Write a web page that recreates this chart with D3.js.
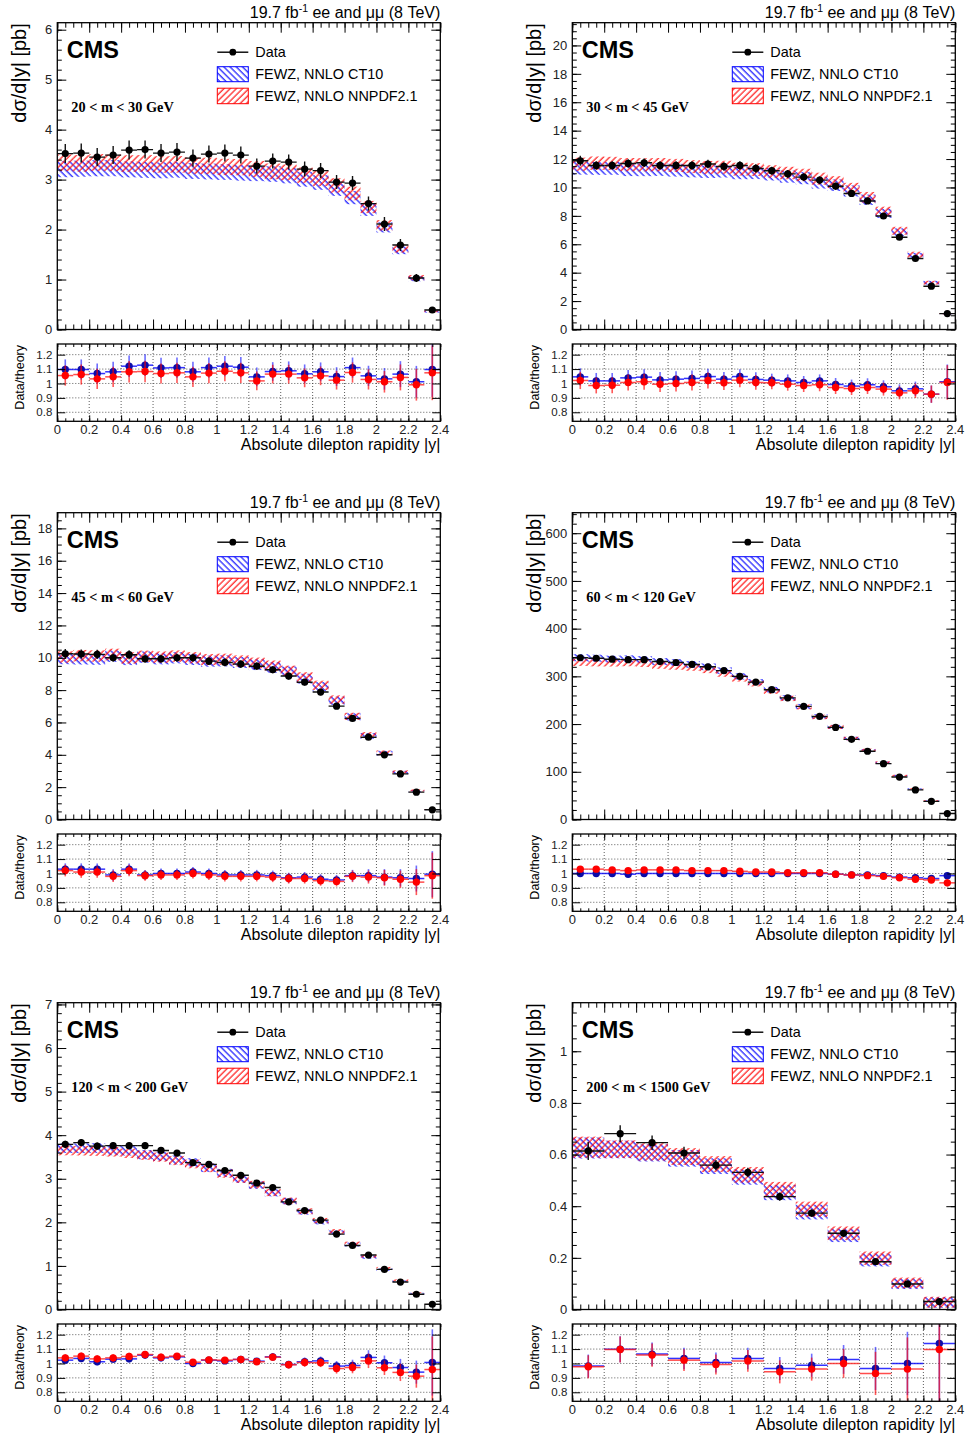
<!DOCTYPE html>
<html>
<head>
<meta charset="utf-8">
<script src="https://cdn.jsdelivr.net/npm/d3@7"></script>
<style>
  body { margin: 0; background: #fff; }
  svg { display: block; }
</style>
</head>
<body>
<script>
// #Page size
const width = 966, height = 1439;
const FONT = 'Liberation Sans, Arial, Helvetica, sans-serif';
const SERIF = 'Liberation Serif, Times New Roman, serif';

// #Rapidity bins
const edgesFine = [0, 0.1, 0.2, 0.3, 0.4, 0.5, 0.6, 0.7, 0.8, 0.9, 1.0, 1.1, 1.2,
                   1.3, 1.4, 1.5, 1.6, 1.7, 1.8, 1.9, 2.0, 2.1, 2.2, 2.3, 2.4];
const edgesWide = [0, 0.2, 0.4, 0.6, 0.8, 1.0, 1.2, 1.4, 1.6, 1.8, 2.0, 2.2, 2.4];
const xTickLabels = [0, 0.2, 0.4, 0.6, 0.8, 1, 1.2, 1.4, 1.6, 1.8, 2, 2.2, 2.4];
const ratioTickLabels = [0.8, 0.9, 1, 1.1, 1.2];

const massLabels = ['20 < m < 30 GeV', '30 < m < 45 GeV', '45 < m < 60 GeV',
                    '60 < m < 120 GeV', '120 < m < 200 GeV', '200 < m < 1500 GeV'];

// relative half width of the FEWZ bands (one value per mass bin, or one per rapidity bin)
const bandUnc200to1500 = [0.065, 0.055, 0.055, 0.055, 0.055, 0.058, 0.065, 0.076, 0.09, 0.13, 0.2, 0.75];
const theoryRelUnc = [0.05, 0.04, 0.035, 0.022, 0.03, bandUnc200to1500];

// #20 < m < 30
const xsec20to30 = [3.52, 3.53, 3.45, 3.49, 3.59, 3.60, 3.53, 3.55, 3.43, 3.51, 3.53, 3.49,
                    3.27, 3.37, 3.35, 3.21, 3.18, 2.95, 2.93, 2.52, 2.11, 1.69, 1.03, 0.39];
const err20to30 = [0.19, 0.19, 0.18, 0.18, 0.19, 0.18, 0.18, 0.18, 0.17, 0.17, 0.17, 0.17,
                   0.15, 0.15, 0.15, 0.15, 0.15, 0.14, 0.14, 0.14, 0.14, 0.12, 0.08, 0.04];
const rCT20to30 = [1.097, 1.097, 1.069, 1.081, 1.120, 1.127, 1.108, 1.110, 1.081, 1.110, 1.120, 1.113,
                   1.046, 1.083, 1.088, 1.067, 1.081, 1.048, 1.110, 1.053, 1.032, 1.065, 1.012, 1.097];
const rNN20to30 = [1.055, 1.062, 1.032, 1.046, 1.081, 1.083, 1.069, 1.074, 1.046, 1.072, 1.085, 1.074,
                   1.018, 1.065, 1.065, 1.039, 1.053, 1.023, 1.076, 1.028, 1.012, 1.042, 0.991, 1.074];
const rErr20to30 = [0.07, 0.07, 0.07, 0.07, 0.075, 0.075, 0.07, 0.07, 0.07, 0.07, 0.07, 0.07,
                    0.065, 0.065, 0.065, 0.065, 0.065, 0.065, 0.07, 0.07, 0.075, 0.09, 0.11, 0.19];
const yTicks20to30 = [0, 1, 2, 3, 4, 5, 6];

// #30 < m < 45
const xsec30to45 = [11.88, 11.55, 11.55, 11.69, 11.74, 11.55, 11.55, 11.55, 11.65, 11.48, 11.55, 11.34,
                    11.18, 10.96, 10.73, 10.52, 10.09, 9.58, 9.05, 7.99, 6.5, 5.0, 3.05, 1.12];
const err30to45 = [0.35, 0.3, 0.3, 0.3, 0.3, 0.3, 0.3, 0.3, 0.3, 0.3, 0.3, 0.3,
                   0.28, 0.27, 0.26, 0.25, 0.25, 0.24, 0.22, 0.2, 0.17, 0.14, 0.1, 0.06];
const rCT30to45 = [1.046, 1.018, 1.018, 1.039, 1.044, 1.025, 1.030, 1.035, 1.048, 1.030, 1.048, 1.028,
                   1.023, 1.018, 1.007, 1.018, 0.993, 0.982, 0.991, 0.977, 0.949, 0.963, 0.926, 1.012];
const rNN30to45 = [1.021, 0.986, 0.988, 1.007, 1.012, 0.995, 1.000, 1.007, 1.021, 1.005, 1.023, 1.007,
                   1.005, 0.995, 0.986, 0.991, 0.972, 0.965, 0.972, 0.961, 0.935, 0.949, 0.926, 1.007];
const rErr30to45 = [0.06, 0.055, 0.055, 0.055, 0.055, 0.055, 0.055, 0.055, 0.055, 0.05, 0.05, 0.05,
                    0.045, 0.045, 0.045, 0.045, 0.045, 0.045, 0.045, 0.045, 0.045, 0.05, 0.06, 0.12];
const yTicks30to45 = [0, 2, 4, 6, 8, 10, 12, 14, 16, 18, 20];

// #45 < m < 60
const xsec45to60 = [10.25, 10.23, 10.21, 10.0, 10.19, 9.94, 9.94, 10.0, 10.0, 9.79, 9.71, 9.61,
                    9.48, 9.26, 8.87, 8.49, 7.88, 7.01, 6.25, 5.09, 4.0, 2.82, 1.69, 0.60];
const err45to60 = [0.3, 0.28, 0.28, 0.25, 0.28, 0.25, 0.25, 0.25, 0.25, 0.24, 0.24, 0.23,
                   0.22, 0.22, 0.21, 0.2, 0.19, 0.17, 0.15, 0.13, 0.11, 0.09, 0.07, 0.06];
const rCT45to60 = [1.03, 1.03, 1.03, 0.99, 1.03, 0.99, 1.0, 1.0, 1.01, 1.0, 0.99, 0.99,
                   0.99, 0.985, 0.97, 0.975, 0.96, 0.955, 0.985, 0.985, 0.975, 0.97, 0.965, 0.995];
const rNN45to60 = [1.02, 1.01, 1.01, 0.98, 1.02, 0.985, 0.99, 0.99, 1.0, 0.99, 0.98, 0.98,
                   0.98, 0.975, 0.965, 0.965, 0.95, 0.945, 0.98, 0.975, 0.97, 0.96, 0.94, 0.985];
const rErr45to60 = [0.04, 0.04, 0.04, 0.04, 0.04, 0.035, 0.035, 0.035, 0.035, 0.035, 0.035, 0.035,
                    0.035, 0.035, 0.035, 0.035, 0.035, 0.035, 0.04, 0.045, 0.055, 0.06, 0.09, 0.16];
const yTicks45to60 = [0, 2, 4, 6, 8, 10, 12, 14, 16, 18];

// #60 < m < 120
const xsec60to120 = [339, 338, 336, 335, 335, 331, 329, 325, 320, 312, 300, 288,
                     272, 255, 237, 216, 193, 168, 143, 117, 89, 62, 38, 12.6];
const err60to120 = [3, 3, 3, 3, 3, 3, 3, 3, 3, 3, 3, 3,
                    3, 3, 3, 2.5, 2.5, 2.5, 2, 2, 2, 1.5, 1, 0.5];
const rCT60to120 = [1.0, 1.0, 1.0, 0.995, 1.0, 1.0, 1.0, 1.0, 1.0, 1.0, 1.0, 1.0,
                    1.0, 1.0, 1.0, 1.0, 0.995, 0.99, 0.99, 0.985, 0.975, 0.97, 0.965, 0.985];
const rNN60to120 = [1.03, 1.03, 1.025, 1.02, 1.025, 1.025, 1.025, 1.02, 1.02, 1.02, 1.015, 1.01,
                    1.01, 1.005, 1.005, 1.005, 0.995, 0.99, 0.985, 0.98, 0.97, 0.96, 0.955, 0.935];
const rErr60to120 = [0.012, 0.012, 0.012, 0.012, 0.012, 0.012, 0.012, 0.012, 0.012, 0.012, 0.012, 0.012,
                     0.012, 0.012, 0.012, 0.012, 0.012, 0.012, 0.013, 0.014, 0.015, 0.017, 0.02, 0.025];
const yTicks60to120 = [0, 100, 200, 300, 400, 500, 600];

// #120 < m < 200
const xsec120to200 = [3.79, 3.83, 3.75, 3.76, 3.76, 3.76, 3.65, 3.59, 3.37, 3.33, 3.19, 3.08,
                      2.90, 2.80, 2.47, 2.27, 2.05, 1.73, 1.47, 1.25, 0.92, 0.63, 0.35, 0.12];
const err120to200 = [0.08, 0.08, 0.08, 0.08, 0.08, 0.08, 0.07, 0.07, 0.07, 0.07, 0.06, 0.06,
                     0.06, 0.06, 0.05, 0.05, 0.05, 0.04, 0.04, 0.04, 0.03, 0.03, 0.02, 0.02];
const rCT120to200 = [1.023, 1.035, 1.012, 1.030, 1.032, 1.058, 1.039, 1.046, 1.000, 1.023, 1.018, 1.028,
                     1.016, 1.046, 0.993, 1.012, 1.018, 0.982, 0.986, 1.042, 1.005, 0.972, 0.940, 1.007];
const rNN120to200 = [1.039, 1.051, 1.032, 1.039, 1.049, 1.062, 1.044, 1.051, 1.009, 1.025, 1.023, 1.028,
                     1.012, 1.044, 0.991, 1.007, 1.005, 0.965, 0.972, 1.018, 0.970, 0.938, 0.912, 0.958];
const rErr120to200 = [0.025, 0.025, 0.025, 0.025, 0.025, 0.025, 0.025, 0.02, 0.02, 0.02, 0.02, 0.02,
                      0.02, 0.025, 0.025, 0.03, 0.03, 0.035, 0.04, 0.05, 0.05, 0.06, 0.08, 0.23];
const yTicks120to200 = [0, 1, 2, 3, 4, 5, 6, 7];

// #200 < m < 1500
const xsec200to1500 = [0.614, 0.681, 0.646, 0.606, 0.559, 0.531, 0.437, 0.373, 0.295, 0.185, 0.099, 0.031];
const err200to1500 = [0.035, 0.032, 0.028, 0.024, 0.02, 0.018, 0.016, 0.014, 0.012, 0.01, 0.008, 0.006];
const rCT200to1500 = [0.982, 1.099, 1.065, 1.035, 1.007, 1.035, 0.965, 0.988, 1.028, 0.965, 1.0, 1.139];
const rNN200to1500 = [0.977, 1.097, 1.058, 1.023, 0.993, 1.018, 0.942, 0.961, 1.0, 0.931, 0.961, 1.097];
const rErr200to1500 = [0.08, 0.09, 0.08, 0.075, 0.07, 0.075, 0.08, 0.08, 0.1, 0.15, 0.22, 0.5];
const yTicks200to1500 = [0, 0.2, 0.4, 0.6, 0.8, 1];

const panels = [
    {label: massLabels[0], edges: edgesFine, xsec: xsec20to30, err: err20to30, rCT: rCT20to30,
     rNN: rNN20to30, rErr: rErr20to30, unc: theoryRelUnc[0], yMax: 6.14, yTicks: yTicks20to30, yMinor: 0.2},
    {label: massLabels[1], edges: edgesFine, xsec: xsec30to45, err: err30to45, rCT: rCT30to45,
     rNN: rNN30to45, rErr: rErr30to45, unc: theoryRelUnc[1], yMax: 21.6, yTicks: yTicks30to45, yMinor: 0.5},
    {label: massLabels[2], edges: edgesFine, xsec: xsec45to60, err: err45to60, rCT: rCT45to60,
     rNN: rNN45to60, rErr: rErr45to60, unc: theoryRelUnc[2], yMax: 18.97, yTicks: yTicks45to60, yMinor: 0.5},
    {label: massLabels[3], edges: edgesFine, xsec: xsec60to120, err: err60to120, rCT: rCT60to120,
     rNN: rNN60to120, rErr: rErr60to120, unc: theoryRelUnc[3], yMax: 643, yTicks: yTicks60to120, yMinor: 20},
    {label: massLabels[4], edges: edgesFine, xsec: xsec120to200, err: err120to200, rCT: rCT120to200,
     rNN: rNN120to200, rErr: rErr120to200, unc: theoryRelUnc[4], yMax: 7.04, yTicks: yTicks120to200, yMinor: 0.2},
    {label: massLabels[5], edges: edgesWide, xsec: xsec200to1500, err: err200to1500, rCT: rCT200to1500,
     rNN: rNN200to1500, rErr: rErr200to1500, unc: theoryRelUnc[5], yMax: 1.188, yTicks: yTicks200to1500, yMinor: 0.05}
];

// #Layout
const colLeft = [57.3, 572.3], rowTop = [0, 490, 980];
const plotW = 383;
const mainTop = 22.7, mainBottom = 329.5, ratioTop = 344, ratioBottom = 421.3;
const ratioDomain = [0.7375, 1.274];

const svg = d3.select('body')
              .append('svg')
              .attr('width', width)
              .attr('height', height);

const defs = svg.append('defs');

// #Hatch patterns for the theory bands
const hatch = (id, color, angle) => {
    const p = defs.append('pattern')
                  .attr('id', id)
                  .attr('patternUnits', 'userSpaceOnUse')
                  .attr('width', 4.4)
                  .attr('height', 4.4)
                  .attr('patternTransform', `rotate(${angle})`);
    p.append('line')
     .attr('x1', 1).attr('y1', 0).attr('x2', 1).attr('y2', 4.4)
     .attr('stroke', color)
     .attr('stroke-width', 1.1);
};
hatch('hatchBlue', '#0000ff', -45);
hatch('hatchRed', '#ff0000', 45);

const fmt = d3.format('~g');

const styleAxis = (sel, size) => {
    sel.select('.domain').remove();
    sel.attr('font-family', FONT).attr('font-size', size);
    sel.selectAll('line').attr('stroke', '#000').attr('stroke-width', 1);
    sel.selectAll('text').attr('fill', '#222');
};

const minorValues = (max, step) => d3.range(0, Math.floor(max / step + 1e-6) + 1).map(k => k * step);

function drawPanel(p, L, T, idx) {
    const g = svg.append('g');
    const R = L + plotW;

    const x = d3.scaleLinear().domain([0, 2.4]).range([L, R]);
    const y = d3.scaleLinear().domain([0, p.yMax]).range([T + mainBottom, T + mainTop]);
    const yr = d3.scaleLinear().domain(ratioDomain).range([T + ratioBottom, T + ratioTop]);

    defs.append('clipPath').attr('id', 'clipMain' + idx)
        .append('rect').attr('x', L).attr('y', T + mainTop)
        .attr('width', plotW).attr('height', mainBottom - mainTop);
    defs.append('clipPath').attr('id', 'clipRatio' + idx)
        .append('rect').attr('x', L).attr('y', T + ratioTop)
        .attr('width', plotW).attr('height', ratioBottom - ratioTop);

    const bins = p.xsec.map((v, k) => ({
        lo: p.edges[k], hi: p.edges[k + 1], mid: (p.edges[k] + p.edges[k + 1]) / 2,
        v: v, e: p.err[k],
        ct: v / p.rCT[k], nn: v / p.rNN[k],
        u: Array.isArray(p.unc) ? p.unc[k] : p.unc,
        rct: p.rCT[k], rnn: p.rNN[k], re: p.rErr[k]
    }));

// #Main pad
    const mainG = g.append('g').attr('clip-path', `url(#clipMain${idx})`);

    const band = (key, fill) => {
        mainG.append('g')
             .selectAll('rect')
             .data(bins)
             .join('rect')
             .attr('x', d => x(d.lo))
             .attr('width', d => x(d.hi) - x(d.lo))
             .attr('y', d => y(d[key] * (1 + d.u)))
             .attr('height', d => y(d[key] * (1 - d.u)) - y(d[key] * (1 + d.u)))
             .attr('fill', fill);
    };
    band('ct', 'url(#hatchBlue)');
    band('nn', 'url(#hatchRed)');

    const dataG = mainG.append('g');
    dataG.selectAll('line.h')
         .data(bins).join('line').attr('class', 'h')
         .attr('x1', d => x(d.lo)).attr('x2', d => x(d.hi))
         .attr('y1', d => y(d.v)).attr('y2', d => y(d.v))
         .attr('stroke', '#111').attr('stroke-width', 1.4);
    dataG.selectAll('line.v')
         .data(bins).join('line').attr('class', 'v')
         .attr('x1', d => x(d.mid)).attr('x2', d => x(d.mid))
         .attr('y1', d => y(d.v - d.e)).attr('y2', d => y(d.v + d.e))
         .attr('stroke', '#111').attr('stroke-width', 1.4);
    dataG.selectAll('circle')
         .data(bins).join('circle')
         .attr('cx', d => x(d.mid)).attr('cy', d => y(d.v)).attr('r', 3.6)
         .attr('fill', '#000');

// #Main axes (ticks inward on all four sides)
    g.append('g').attr('transform', `translate(${L},0)`)
     .call(d3.axisLeft(y).tickValues(p.yTicks).tickSizeInner(-9).tickSizeOuter(0).tickPadding(5).tickFormat(fmt))
     .call(s => styleAxis(s, 13));
    g.append('g').attr('transform', `translate(${L},0)`)
     .call(d3.axisLeft(y).tickValues(minorValues(p.yMax, p.yMinor)).tickSizeInner(-4.5).tickSizeOuter(0).tickFormat(''))
     .call(s => styleAxis(s, 13));
    g.append('g').attr('transform', `translate(${R},0)`)
     .call(d3.axisRight(y).tickValues(p.yTicks).tickSizeInner(-9).tickSizeOuter(0).tickFormat(''))
     .call(s => styleAxis(s, 13));
    g.append('g').attr('transform', `translate(${R},0)`)
     .call(d3.axisRight(y).tickValues(minorValues(p.yMax, p.yMinor)).tickSizeInner(-4.5).tickSizeOuter(0).tickFormat(''))
     .call(s => styleAxis(s, 13));

    [[T + mainBottom, d3.axisBottom], [T + mainTop, d3.axisTop]].forEach(([yy, ax]) => {
        g.append('g').attr('transform', `translate(0,${yy})`)
         .call(ax(x).tickValues(xTickLabels).tickSizeInner(-10).tickSizeOuter(0).tickFormat(''))
         .call(s => styleAxis(s, 13));
        g.append('g').attr('transform', `translate(0,${yy})`)
         .call(ax(x).tickValues(minorValues(2.4, 0.05)).tickSizeInner(-5).tickSizeOuter(0).tickFormat(''))
         .call(s => styleAxis(s, 13));
    });

    g.append('rect')
     .attr('x', L).attr('y', T + mainTop)
     .attr('width', plotW).attr('height', mainBottom - mainTop)
     .attr('fill', 'none').attr('stroke', '#000').attr('stroke-width', 1.3);

// #Texts of the main pad
    g.append('text')
     .attr('x', R).attr('y', T + 18.3)
     .attr('text-anchor', 'end')
     .attr('font-family', FONT).attr('font-size', 16)
     .call(t => {
         t.append('tspan').text('19.7 fb');
         t.append('tspan').attr('font-size', 10.5).attr('dy', -6).text('-1');
         t.append('tspan').attr('dy', 6).text(' ee and μμ (8 TeV)');
     });

    g.append('text')
     .attr('transform', `translate(${L - 31},${T + mainTop + 0.5}) rotate(-90)`)
     .attr('text-anchor', 'end')
     .attr('font-family', FONT).attr('font-size', 20)
     .text('dσ/d|y| [pb]');

    g.append('text')
     .attr('x', L + 9.5).attr('y', T + mainTop + 35.5)
     .attr('font-family', FONT).attr('font-size', 23.5).attr('font-weight', 'bold')
     .text('CMS');

    g.append('text')
     .attr('x', L + 14).attr('y', T + mainTop + 89)
     .attr('font-family', SERIF).attr('font-size', 14.3).attr('font-weight', 'bold')
     .text(p.label);

// #Legend
    const lx = L + 160, ly = T + mainTop;
    g.append('line')
     .attr('x1', lx).attr('x2', lx + 31).attr('y1', ly + 29.5).attr('y2', ly + 29.5)
     .attr('stroke', '#000').attr('stroke-width', 1.4);
    g.append('circle').attr('cx', lx + 15.5).attr('cy', ly + 29.5).attr('r', 3.4).attr('fill', '#000');
    g.append('rect')
     .attr('x', lx).attr('y', ly + 44).attr('width', 31).attr('height', 15)
     .attr('fill', 'url(#hatchBlue)').attr('stroke', '#0000ff').attr('stroke-width', 1);
    g.append('rect')
     .attr('x', lx).attr('y', ly + 65.5).attr('width', 31).attr('height', 15.5)
     .attr('fill', 'url(#hatchRed)').attr('stroke', '#ff0000').attr('stroke-width', 1);
    [['Data', 34.5], ['FEWZ, NNLO CT10', 56.5], ['FEWZ, NNLO NNPDF2.1', 78.5]].forEach(([txt, dy]) => {
        g.append('text')
         .attr('x', lx + 38).attr('y', ly + dy)
         .attr('font-family', FONT).attr('font-size', 14.4)
         .text(txt);
    });

// #Ratio pad
    const gridG = g.append('g')
                   .attr('stroke', '#000').attr('stroke-width', 0.8)
                   .attr('stroke-dasharray', '1,2').attr('opacity', 0.8);
    gridG.selectAll('line.gx')
         .data(xTickLabels.slice(1, -1)).join('line').attr('class', 'gx')
         .attr('x1', d => x(d)).attr('x2', d => x(d))
         .attr('y1', T + ratioTop).attr('y2', T + ratioBottom);
    gridG.selectAll('line.gy')
         .data(ratioTickLabels).join('line').attr('class', 'gy')
         .attr('x1', L).attr('x2', R)
         .attr('y1', d => yr(d)).attr('y2', d => yr(d));

    const ratioG = g.append('g').attr('clip-path', `url(#clipRatio${idx})`);
    const ratioSeries = (key, lineColor, barColor, markColor) => {
        const s = ratioG.append('g');
        s.selectAll('line.v')
         .data(bins).join('line').attr('class', 'v')
         .attr('x1', d => x(d.mid)).attr('x2', d => x(d.mid))
         .attr('y1', d => yr(d[key] - d.re)).attr('y2', d => yr(d[key] + d.re))
         .attr('stroke', barColor).attr('stroke-width', 1.6).attr('opacity', 0.65);
        s.selectAll('line.h')
         .data(bins).join('line').attr('class', 'h')
         .attr('x1', d => x(d.lo)).attr('x2', d => x(d.hi))
         .attr('y1', d => yr(d[key])).attr('y2', d => yr(d[key]))
         .attr('stroke', lineColor).attr('stroke-width', 1.5).attr('opacity', 0.8);
        s.selectAll('circle')
         .data(bins).join('circle')
         .attr('cx', d => x(d.mid)).attr('cy', d => yr(d[key])).attr('r', 3.7)
         .attr('fill', markColor);
    };
    ratioSeries('rct', '#0000ff', '#2020ff', '#0c0ca8');
    ratioSeries('rnn', '#ff2020', '#ff0000', '#ff0000');

    g.append('g').attr('transform', `translate(${L},0)`)
     .call(d3.axisLeft(yr).tickValues(ratioTickLabels).tickSizeInner(-8).tickSizeOuter(0).tickPadding(5).tickFormat(fmt))
     .call(s => styleAxis(s, 11.5));
    g.append('g').attr('transform', `translate(${R},0)`)
     .call(d3.axisRight(yr).tickValues(ratioTickLabels).tickSizeInner(-8).tickSizeOuter(0).tickFormat(''))
     .call(s => styleAxis(s, 11.5));
    [[T + ratioBottom, d3.axisBottom], [T + ratioTop, d3.axisTop]].forEach(([yy, ax]) => {
        g.append('g').attr('transform', `translate(0,${yy})`)
         .call(ax(x).tickValues(xTickLabels).tickSizeInner(-6).tickSizeOuter(0).tickFormat(''))
         .call(s => styleAxis(s, 13));
        g.append('g').attr('transform', `translate(0,${yy})`)
         .call(ax(x).tickValues(minorValues(2.4, 0.05)).tickSizeInner(-3).tickSizeOuter(0).tickFormat(''))
         .call(s => styleAxis(s, 13));
    });

    g.append('rect')
     .attr('x', L).attr('y', T + ratioTop)
     .attr('width', plotW).attr('height', ratioBottom - ratioTop)
     .attr('fill', 'none').attr('stroke', '#000').attr('stroke-width', 1.3);

    g.append('g')
     .selectAll('text')
     .data(xTickLabels).join('text')
     .attr('x', d => x(d)).attr('y', T + 434)
     .attr('text-anchor', 'middle')
     .attr('font-family', FONT).attr('font-size', 13).attr('fill', '#222')
     .text(d => fmt(d));

    g.append('text')
     .attr('x', R).attr('y', T + 450)
     .attr('text-anchor', 'end')
     .attr('font-family', FONT).attr('font-size', 16)
     .text('Absolute dilepton rapidity |y|');

    g.append('text')
     .attr('transform', `translate(${L - 33},${T + ratioTop + 1}) rotate(-90)`)
     .attr('text-anchor', 'end')
     .attr('font-family', FONT).attr('font-size', 12.5)
     .text('Data/theory');
}

panels.forEach((p, i) => drawPanel(p, colLeft[i % 2], rowTop[Math.floor(i / 2)], i));
</script>
</body>
</html>
